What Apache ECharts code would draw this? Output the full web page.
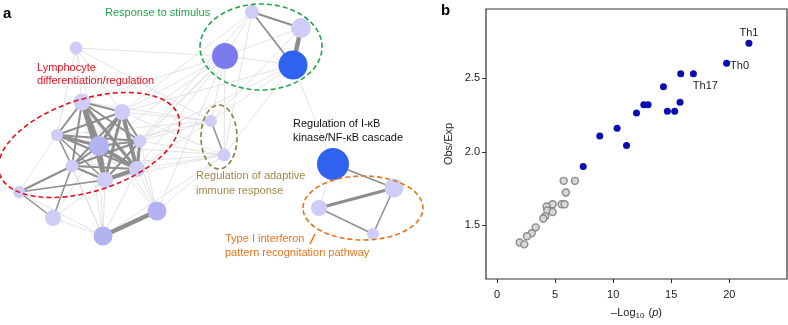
<!DOCTYPE html>
<html>
<head>
<meta charset="utf-8">
<script src="https://cdn.jsdelivr.net/npm/echarts@6/dist/echarts.min.js"></script>
<style>
html, body { margin: 0; padding: 0; background: #fff; }
#chart { width: 788px; height: 325px; }
</style>
</head>
<body>
<div id="chart"></div>
<script>
// ---- panel a: enriched term network (layout units) ----
var nodeX = [252, 301, 225, 293, 333, 394, 319, 373, 211, 224, 76, 82, 122, 57, 140, 99, 72, 137, 105, 19, 53, 157, 103];
var nodeY = [12, 28, 56, 65, 164, 188, 208, 234, 121, 155, 48, 102, 112, 135, 141, 146, 166, 169, 180, 192, 218, 211, 236];
var nodeSize = [14, 20, 26, 29, 32, 19, 16, 12, 12, 13, 13, 17, 16, 12, 13, 20, 13, 16, 16, 12, 16, 19, 19];
var nodeLevel = [0, 0, 2, 3, 3, 0, 0, 0, 0, 0, 0, 0, 0, 0, 0, 1, 0, 0, 0, 0, 0, 1, 1];

// [source, target, width]
var strongEdges = [
    [0, 1, 2], [0, 3, 1.8], [1, 3, 4.5],
    [4, 5, 1.8], [5, 6, 3], [5, 7, 1.5], [6, 7, 1.5],
    [8, 9, 1.5],
    [11, 15, 5], [11, 18, 4], [11, 17, 3], [11, 12, 2], [11, 13, 2], [11, 16, 2], [11, 14, 2],
    [12, 15, 3], [12, 17, 4], [12, 18, 3], [12, 16, 2], [12, 14, 2], [12, 13, 2],
    [13, 15, 3], [13, 14, 2], [13, 17, 2], [13, 16, 1.5], [13, 18, 1.5],
    [14, 15, 2], [14, 17, 3], [14, 18, 2], [14, 16, 2],
    [15, 17, 4], [15, 18, 4], [15, 16, 2], [16, 17, 2], [16, 18, 2], [17, 18, 4],
    [16, 19, 2], [18, 19, 1.5], [19, 20, 1.5], [20, 16, 1.5],
    [21, 22, 4.5]
];
var weakEdges = [
    [10, 11], [10, 12], [10, 15], [10, 2], [10, 8], [10, 13],
    [2, 11], [2, 12], [2, 14], [2, 15], [2, 17], [2, 8], [2, 9], [2, 18], [2, 21],
    [0, 12], [0, 14], [0, 9], [0, 2],
    [3, 8], [3, 9], [3, 4], [3, 14], [3, 12], [3, 2],
    [1, 8], [1, 2],
    [8, 11], [8, 12], [8, 14], [8, 15], [8, 17], [8, 13],
    [9, 12], [9, 14], [9, 15], [9, 17], [9, 18], [9, 21], [9, 22], [9, 16],
    [19, 13], [19, 22], [19, 18], [20, 22], [20, 18], [20, 15],
    [21, 15], [21, 17], [21, 14], [21, 12], [21, 11],
    [22, 17], [22, 18], [22, 15], [22, 16], [22, 11], [22, 13],
    [4, 6]
];

// group outlines: centre, radii, tilt (deg)
var ringCx = [261, 89, 219, 363];
var ringCy = [47, 145, 137, 208];
var ringRx = [61, 94, 18, 60];
var ringRy = [43, 46, 32, 32];
var ringTilt = [0, 18, 0, 0];
var ringColor = ['#22a64c', '#e8101c', '#8c7d45', '#e8731f'];

var labelText = ['Response to stimulus', 'Lymphocyte', 'differentiation/regulation',
    'Regulation of I-\u03baB', 'kinase/NF-\u03baB cascade',
    'Regulation of adaptive', 'immune response',
    'Type I interferon', 'pattern recognitation pathway'];
var labelX = [105, 37, 37, 293, 293, 196, 196, 225, 225];
var labelY = [13, 68, 81, 124, 138, 176, 191, 239, 253];
var labelColor = ['#22a64c', '#e8101c', '#e8101c', '#111', '#111', '#a08a4c', '#a08a4c', '#e8731f', '#e8731f'];

// ---- panel b: Obs/Exp vs -log10(p) ----
var sigX = [21.69, 19.77, 15.82, 16.91, 14.33, 12.64, 13.01, 12.01, 14.67, 15.30, 15.76, 10.34, 8.85, 11.15, 7.42];
var sigY = [2.74, 2.604, 2.531, 2.531, 2.444, 2.32, 2.32, 2.264, 2.276, 2.276, 2.338, 2.16, 2.107, 2.042, 1.90];
var sigName = ['Th1', 'Th0', '', 'Th17', '', '', '', '', '', '', '', '', '', '', ''];
var nsX = [5.74, 6.71, 5.93, 4.79, 5.56, 5.82, 4.27, 4.33, 4.79, 4.15, 3.98, 3.33, 2.98, 2.58, 1.95, 2.35];
var nsY = [1.802, 1.802, 1.722, 1.642, 1.642, 1.642, 1.627, 1.60, 1.589, 1.56, 1.545, 1.485, 1.445, 1.424, 1.382, 1.369];
var xTicks = [0, 5, 10, 15, 20];
var yTicks = [1.5, 2.0, 2.5];

var FONT = 'Liberation Sans, Arial, Helvetica, sans-serif';
var nodeColors = ['#cdcdf7', '#b3b3f2', '#7b7bef', '#2f63ef'];

var nodes = nodeX.map(function (x, i) {
    return {
        name: 'n' + i,
        value: [x, nodeY[i]],
        symbolSize: nodeSize[i],
        itemStyle: { color: nodeColors[nodeLevel[i]] }
    };
});
var links = [];
weakEdges.forEach(function (e) {
    links.push({ source: 'n' + e[0], target: 'n' + e[1], lineStyle: { color: '#dcdce0', width: 0.8, opacity: 1 } });
});
strongEdges.forEach(function (e) {
    links.push({ source: 'n' + e[0], target: 'n' + e[1], lineStyle: { color: '#8e8e8e', width: e[2], opacity: 1 } });
});

var rings = ringCx.map(function (cx, i) {
    return [cx, ringCy[i], ringRx[i], ringRy[i], ringTilt[i]];
});
var labels = labelX.map(function (x, i) { return [x, labelY[i]]; });

// label placement for the named points: [position, distance, offset]
var labelPos = { Th1: ['top', 1, [0, 0]], Th0: ['right', 0, [0, 3]], Th17: ['bottom', 3, [12, 0]] };
var sigData = sigX.map(function (x, i) {
    var item = { value: [x, sigY[i]], name: sigName[i] };
    var p = labelPos[sigName[i]];
    if (p) {
        item.label = {
            show: true, position: p[0], distance: p[1], offset: p[2],
            formatter: '{b}', color: '#222', fontSize: 11, fontFamily: FONT
        };
    }
    return item;
});
var nsData = nsX.map(function (x, i) { return [x, nsY[i]]; });

var chart = echarts.init(document.getElementById('chart'));
var option = {
    backgroundColor: '#fff',
    animation: false,
    title: [
        { text: 'a', left: -2, top: 1, textStyle: { fontSize: 15, fontWeight: 'bold', color: '#000', fontFamily: FONT } },
        { text: 'b', left: 436, top: -2, textStyle: { fontSize: 15, fontWeight: 'bold', color: '#000', fontFamily: FONT } }
    ],
    grid: [
        { left: 0, top: 0, width: 788, height: 325 },
        { left: 486, top: 9, width: 301, height: 276, show: true, borderColor: '#333', borderWidth: 1.2 }
    ],
    xAxis: [
        { gridIndex: 0, type: 'value', min: 0, max: 788, show: false },
        {
            gridIndex: 1, type: 'value', min: -0.95, max: 24.97,
            axisLine: { show: false, onZero: false },
            axisTick: { show: true, length: 4, customValues: xTicks, lineStyle: { color: '#333' } },
            axisLabel: { customValues: xTicks, margin: 10, color: '#222', fontSize: 11, fontFamily: FONT },
            splitLine: { show: false },
            name: '{n|\u2013Log}{s|10}{n| (}{i|p}{n|)}',
            nameLocation: 'middle', nameGap: 27,
            nameTextStyle: {
                rich: {
                    n: { fontSize: 11, color: '#222', fontFamily: FONT },
                    s: { fontSize: 8, color: '#222', fontFamily: FONT, padding: [6, 1, 0, 0] },
                    i: { fontSize: 11, color: '#222', fontFamily: FONT, fontStyle: 'italic' }
                }
            }
        }
    ],
    yAxis: [
        { gridIndex: 0, type: 'value', min: 0, max: 325, inverse: true, show: false },
        {
            gridIndex: 1, type: 'value', min: 1.133, max: 2.973,
            axisLine: { show: false, onZero: false },
            axisTick: { show: true, length: 4, customValues: yTicks, lineStyle: { color: '#333' } },
            axisLabel: {
                customValues: yTicks, margin: 6, color: '#222', fontSize: 11, fontFamily: FONT,
                formatter: function (v) { return v.toFixed(1); }
            },
            splitLine: { show: false },
            name: 'Obs/Exp', nameLocation: 'middle', nameGap: 32,
            nameTextStyle: { fontSize: 11, color: '#222', fontFamily: FONT }
        }
    ],
    series: [
        {
            type: 'graph',
            coordinateSystem: 'cartesian2d',
            xAxisIndex: 0, yAxisIndex: 0,
            symbol: 'circle',
            data: nodes,
            links: links,
            label: { show: false },
            lineStyle: { opacity: 1 },
            emphasis: { disabled: true },
            silent: true,
            z: 2
        },
        {
            type: 'custom',
            xAxisIndex: 0, yAxisIndex: 0,
            data: rings,
            clip: false,
            silent: true,
            z: 3,
            renderItem: function (params, api) {
                var c = api.coord([api.value(0), api.value(1)]);
                var s = api.size([api.value(2), api.value(3)]);
                return {
                    type: 'ellipse',
                    x: c[0], y: c[1],
                    rotation: api.value(4) * Math.PI / 180,
                    shape: { cx: 0, cy: 0, rx: s[0], ry: s[1] },
                    style: { fill: 'none', stroke: ringColor[params.dataIndex], lineWidth: 1.6, lineDash: [5, 3] }
                };
            }
        },
        {
            type: 'custom',
            xAxisIndex: 0, yAxisIndex: 0,
            data: [[310, 244, 315, 234]],
            clip: false,
            silent: true,
            z: 3,
            renderItem: function (params, api) {
                var p1 = api.coord([api.value(0), api.value(1)]);
                var p2 = api.coord([api.value(2), api.value(3)]);
                return {
                    type: 'line',
                    shape: { x1: p1[0], y1: p1[1], x2: p2[0], y2: p2[1] },
                    style: { stroke: '#e8731f', lineWidth: 1.6 }
                };
            }
        },
        {
            type: 'custom',
            xAxisIndex: 0, yAxisIndex: 0,
            data: labels,
            clip: false,
            silent: true,
            z: 4,
            renderItem: function (params, api) {
                var c = api.coord([api.value(0), api.value(1)]);
                var i = params.dataIndex;
                return {
                    type: 'text',
                    x: c[0], y: c[1],
                    style: {
                        text: labelText[i], fill: labelColor[i], fontSize: 11, fontFamily: FONT,
                        align: 'left', verticalAlign: 'middle'
                    }
                };
            }
        },
        {
            type: 'scatter',
            xAxisIndex: 1, yAxisIndex: 1,
            data: nsData,
            symbolSize: 7,
            itemStyle: { color: '#d8d8d8', borderColor: '#8a8a8a', borderWidth: 1.4, opacity: 1 },
            silent: true
        },
        {
            type: 'scatter',
            xAxisIndex: 1, yAxisIndex: 1,
            data: sigData,
            symbolSize: 7,
            itemStyle: { color: '#0b0bb2', opacity: 1 },
            silent: true
        }
    ]
};
chart.setOption(option);
</script>
</body>
</html>
